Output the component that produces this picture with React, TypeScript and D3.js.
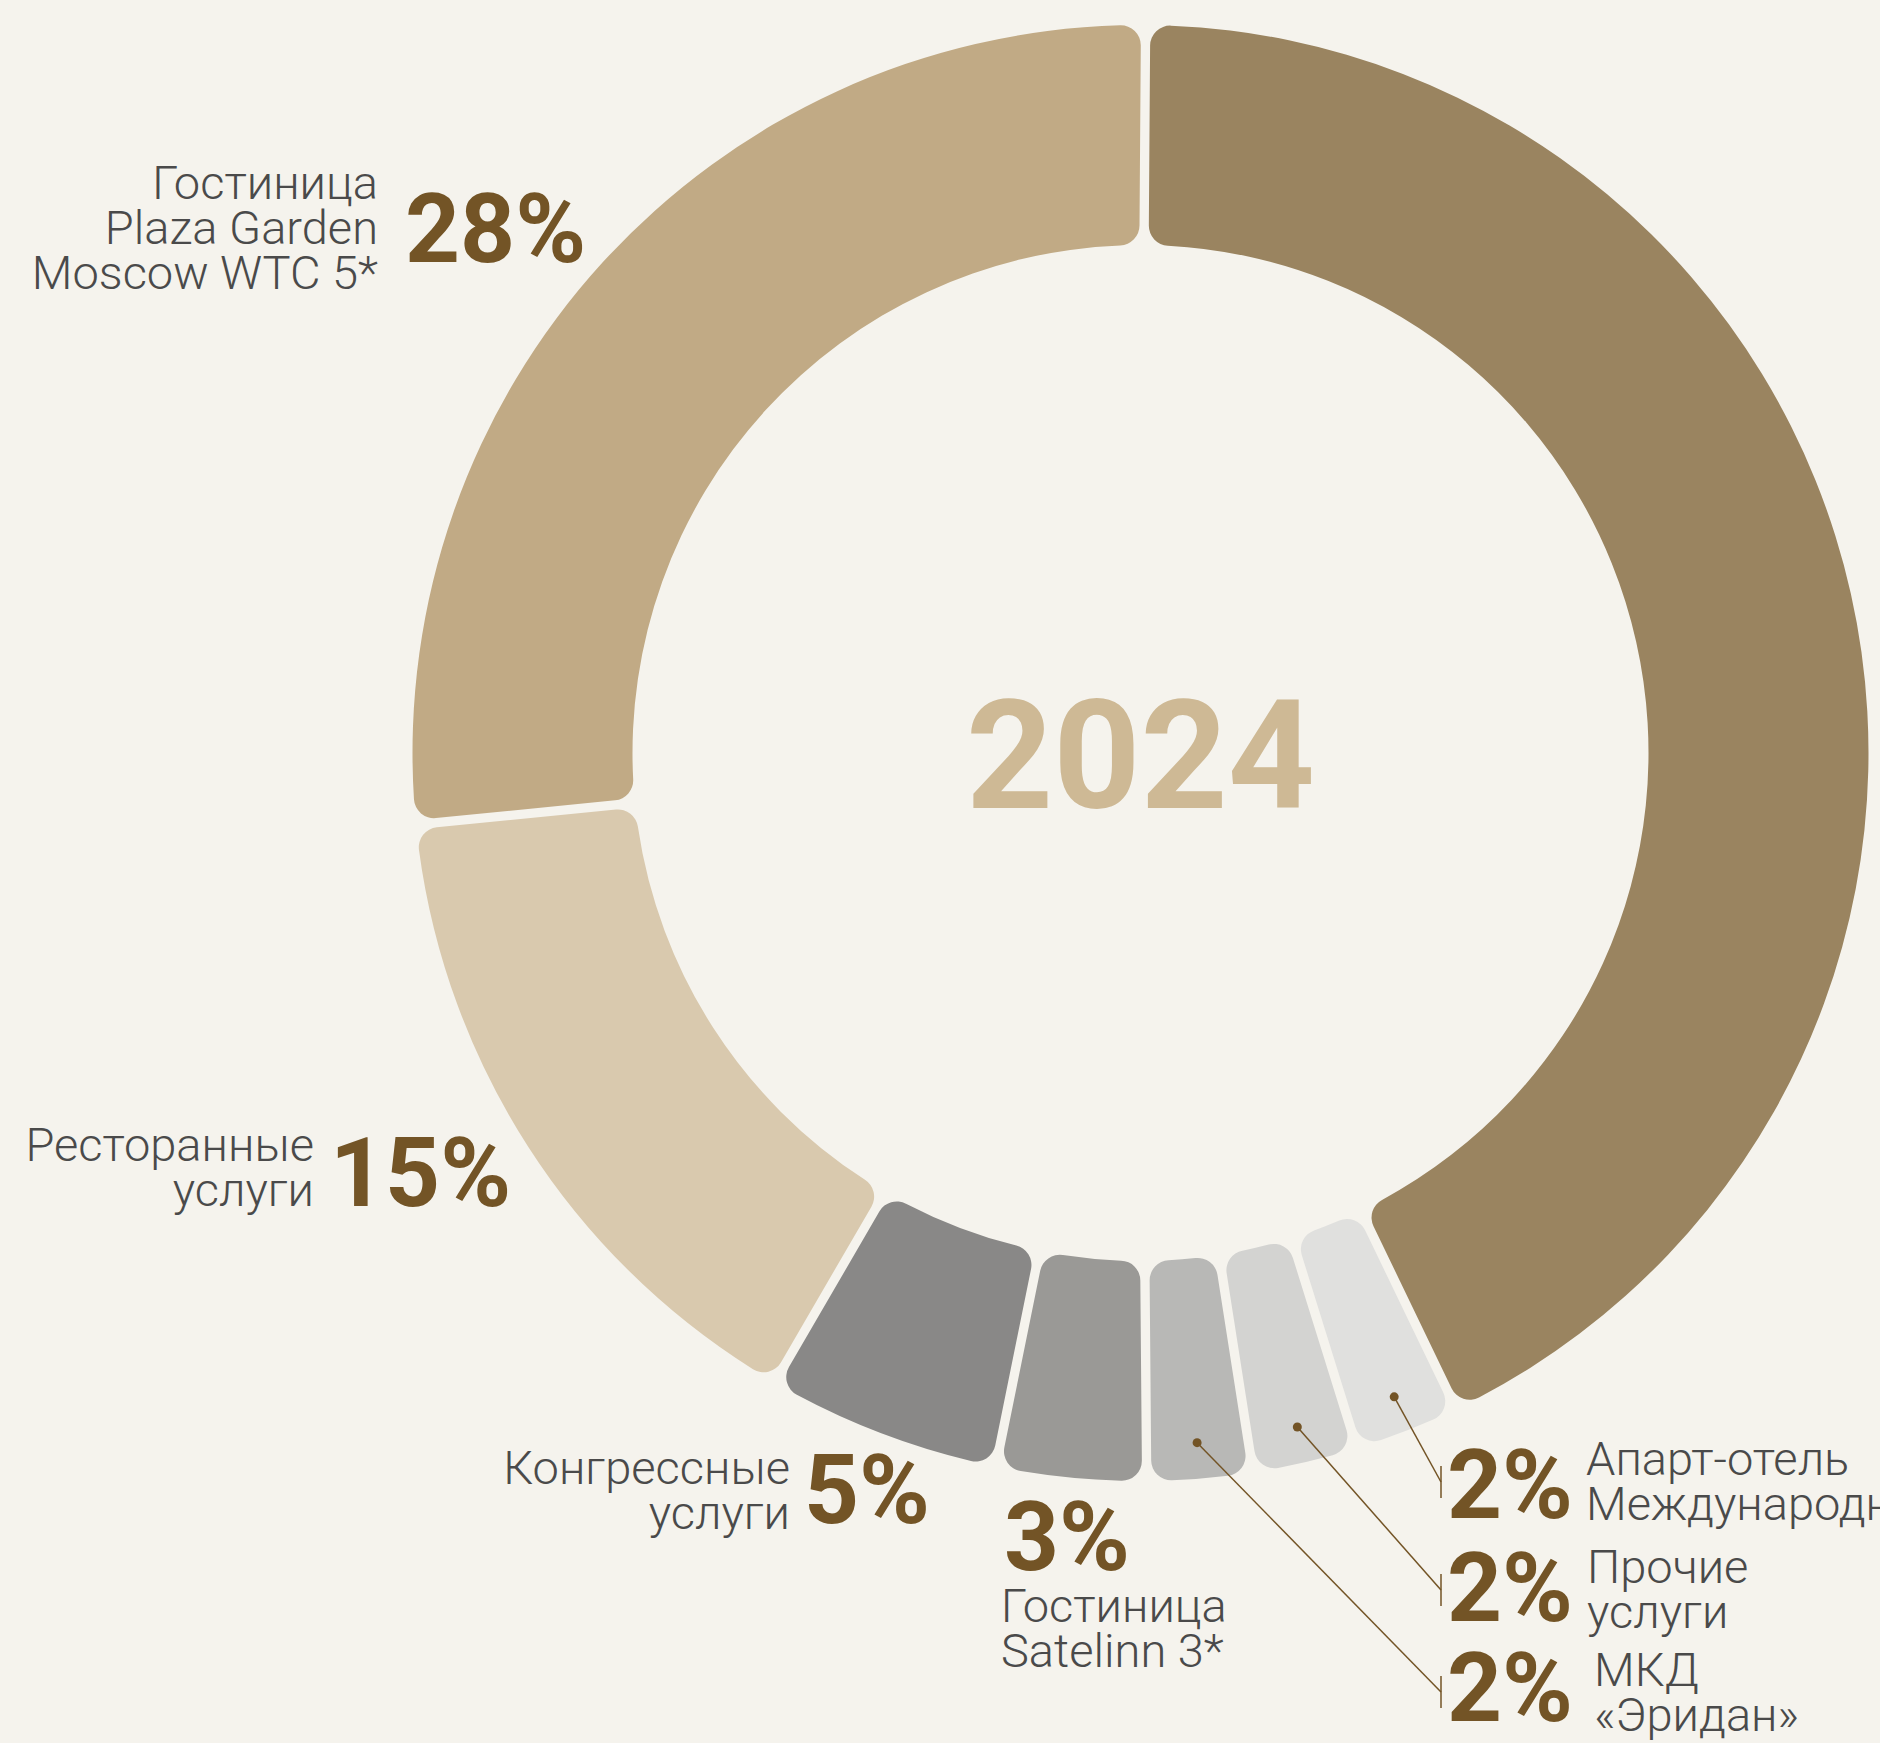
import React from "react";
import * as d3 from "d3";

// ---- data ----
const categories = [
  "",
  "Апарт-отель Международный",
  "Прочие услуги",
  "МКД «Эридан»",
  "Гостиница Satelinn 3*",
  "Конгрессные услуги",
  "Ресторанные услуги",
  "Гостиница Plaza Garden Moscow WTC 5*",
];
const labelLines = [
  [],
  ["Апарт-отель", "Международный"],
  ["Прочие", "услуги"],
  ["МКД", "«Эридан»"],
  ["Гостиница", "Satelinn 3*"],
  ["Конгрессные", "услуги"],
  ["Ресторанные", "услуги"],
  ["Гостиница", "Plaza Garden", "Moscow WTC 5*"],
];
const shares = [43.2, 2.2, 2.2, 2.2, 3.2, 5.1, 15.1, 26.9];
const pctLabels = ["", "2%", "2%", "2%", "3%", "5%", "15%", "28%"];
const colors = [
  "#9A8460",
  "#E0E0DE",
  "#D3D3D1",
  "#B8B8B6",
  "#9A9996",
  "#898887",
  "#D9C9AE",
  "#C1AA85",
];
const centerTitle = "2024";

// ---- layout ----
const W = 1880;
const H = 1743;
const CX = 1140.5;
const CY = 753;
const R_OUT = 728;
const R_IN = 508;
const START = (0.4 * Math.PI) / 180;

const BG = "#F5F3ED";
const PCT_COLOR = "#735426";
const TEXT_COLOR = "#4A4A4A";
const TITLE_COLOR = "#CEB995";
const LABEL_FS = 47;
const LINE_H = 45;
const PCT_FS = 96;

type Place = { px: number; py: number; tx: number; ty: number; anchor: "start" | "end"; leader?: number };
const places: (Place | null)[] = [
  null,
  { px: 1447, py: 1518, tx: 1586, ty: 1475, anchor: "start", leader: 1482 },
  { px: 1447, py: 1621, tx: 1587, ty: 1583, anchor: "start", leader: 1590 },
  { px: 1447, py: 1721, tx: 1594, ty: 1686, anchor: "start", leader: 1692 },
  { px: 1004, py: 1570, tx: 1001, ty: 1622, anchor: "start" },
  { px: 804, py: 1523, tx: 790, ty: 1484, anchor: "end" },
  { px: 330, py: 1206, tx: 314, ty: 1161, anchor: "end" },
  { px: 405, py: 262, tx: 378, ty: 199, anchor: "end" },
];
const TICK_X = 1441;

export default function App() {
  const pie = d3
    .pie<number>()
    .sort(null)
    .value((d) => d)
    .startAngle(START)
    .endAngle(START + 2 * Math.PI)
    .padAngle(0.0105);
  const arcs = pie(shares);
  const arc = d3
    .arc<d3.PieArcDatum<number>>()
    .innerRadius(R_IN)
    .outerRadius(R_OUT)
    .cornerRadius(20);
  const dotArc = d3
    .arc<d3.PieArcDatum<number>>()
    .innerRadius(692)
    .outerRadius(692);

  return (
    <div style={{ position: "absolute", left: 0, top: 0, width: W, height: H, overflow: "hidden" }}>
      <svg width={W} height={H} style={{ display: "block" }} fontFamily="Roboto, 'Noto Sans', sans-serif">
        <rect x={0} y={0} width={W} height={H} fill={BG} />
        <g transform={`translate(${CX},${CY})`}>
          {arcs.map((a, i) => (
            <path key={categories[i] || "main"} d={arc(a) || ""} fill={colors[i]} />
          ))}
          <text
            x={0}
            y={55}
            textAnchor="middle"
            fontSize={152}
            fontWeight={700}
            fill={TITLE_COLOR}
          >
            {centerTitle}
          </text>
        </g>
        {arcs.map((a, i) => {
          const p = places[i];
          if (!p || p.leader === undefined) return null;
          const [dx, dy] = dotArc.centroid(a);
          const x0 = CX + dx;
          const y0 = CY + dy;
          return (
            <g key={"lead" + i}>
              <line x1={x0} y1={y0} x2={TICK_X} y2={p.leader} stroke={PCT_COLOR} strokeWidth={1.5} />
              <line x1={TICK_X} y1={p.leader - 16} x2={TICK_X} y2={p.leader + 16} stroke={PCT_COLOR} strokeWidth={1.5} />
              <circle cx={x0} cy={y0} r={4.5} fill={PCT_COLOR} />
            </g>
          );
        })}
        {places.map((p, i) => {
          if (!p) return null;
          return (
            <g key={"lab" + i}>
              <text x={p.px} y={p.py} fontSize={PCT_FS} fontWeight={700} fill={PCT_COLOR}>
                {pctLabels[i]}
              </text>
              <text
                fontSize={LABEL_FS}
                fontWeight={300}
                fontFamily="'Roboto Light', Roboto, 'Noto Sans', sans-serif"
                fill={TEXT_COLOR}
                textAnchor={p.anchor}
              >
                {labelLines[i].map((ln, j) => (
                  <tspan key={j} x={p.tx} y={p.ty + j * LINE_H}>
                    {ln}
                  </tspan>
                ))}
              </text>
            </g>
          );
        })}
      </svg>
    </div>
  );
}
